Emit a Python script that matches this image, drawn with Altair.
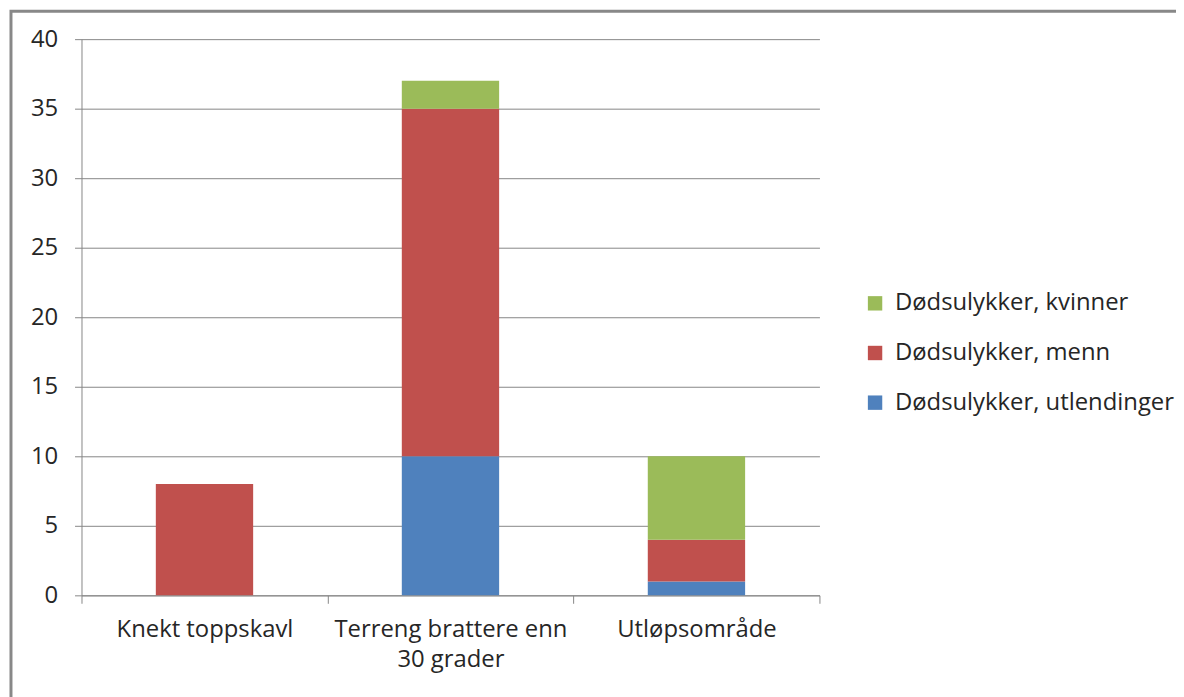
import altair as alt
import pandas as pd

categories = ["Knekt toppskavl", "Terreng brattere enn 30 grader", "Utløpsområde"]
series = ["Dødsulykker, utlendinger", "Dødsulykker, menn", "Dødsulykker, kvinner"]
utlendinger = [0, 10, 1]
menn = [8, 25, 3]
kvinner = [0, 2, 6]
colors = ["#4F81BD", "#C0504D", "#9BBB59"]
y_ticks = [0, 5, 10, 15, 20, 25, 30, 35, 40]

rows = []
for i, c in enumerate(categories):
    for s, vals, order in zip(series, [utlendinger, menn, kvinner], [0, 1, 2]):
        rows.append({"kategori": c, "serie": s, "verdi": vals[i], "rekke": order})
df = pd.DataFrame(rows)

FONT = "Open Sans"
TXT = "#262626"
GRID = "#868686"
FS = 24

bars = alt.Chart(df).mark_bar(size=98).encode(
    x=alt.X("kategori:N", sort=categories, title=None,
            scale=alt.Scale(paddingInner=0, paddingOuter=0),
            axis=alt.Axis(labelAngle=0, tickBand="extent", tickSize=8,
                          tickColor=GRID, domainColor=GRID, labelPadding=14,
                          labelFontSize=FS, labelFont=FONT, labelColor=TXT,
                          labelLineHeight=31, labelBaseline="top", labelLimit=0,
                          labelExpr="datum.value == 'Terreng brattere enn 30 grader' ? ['Terreng brattere enn', '30 grader'] : datum.value")),
    y=alt.Y("verdi:Q", stack="zero", title=None,
            scale=alt.Scale(domain=[0, 40], nice=False),
            axis=alt.Axis(values=y_ticks, tickSize=7, tickColor=GRID,
                          domainColor=GRID, gridColor=GRID, grid=True,
                          labelPadding=17, labelFontSize=FS, labelFont=FONT,
                          labelColor=TXT)),
    color=alt.Color("serie:N", sort=series,
                    scale=alt.Scale(domain=series, range=colors),
                    legend=alt.Legend(title=None, orient="none", legendX=787,
                                      legendY=254, symbolType="square",
                                      symbolSize=210, symbolStrokeWidth=0,
                                      labelFontSize=FS, labelFont=FONT,
                                      labelColor=TXT, rowPadding=26,
                                      labelOffset=8, labelLimit=0,
                                      values=series[::-1])),
    order=alt.Order("rekke:Q", sort="ascending"),
)

frame = alt.Chart(pd.DataFrame({"f": [0]})).mark_rect(
    fill=None, stroke="#888888", strokeWidth=3
).encode(
    x=alt.value(-71), x2=alt.value(1110),
    y=alt.value(-28), y2=alt.value(670),
)

chart = alt.layer(bars, frame).properties(
    width=743, height=560,
    autosize=alt.AutoSizeParams(type="none"),
    padding={"left": 74, "top": 29, "right": 359, "bottom": 100},
).configure_view(stroke=None).configure_axis(domainWidth=1, gridWidth=1)

chart.save("out.html", embed_options={"renderer": "svg", "actions": False})
